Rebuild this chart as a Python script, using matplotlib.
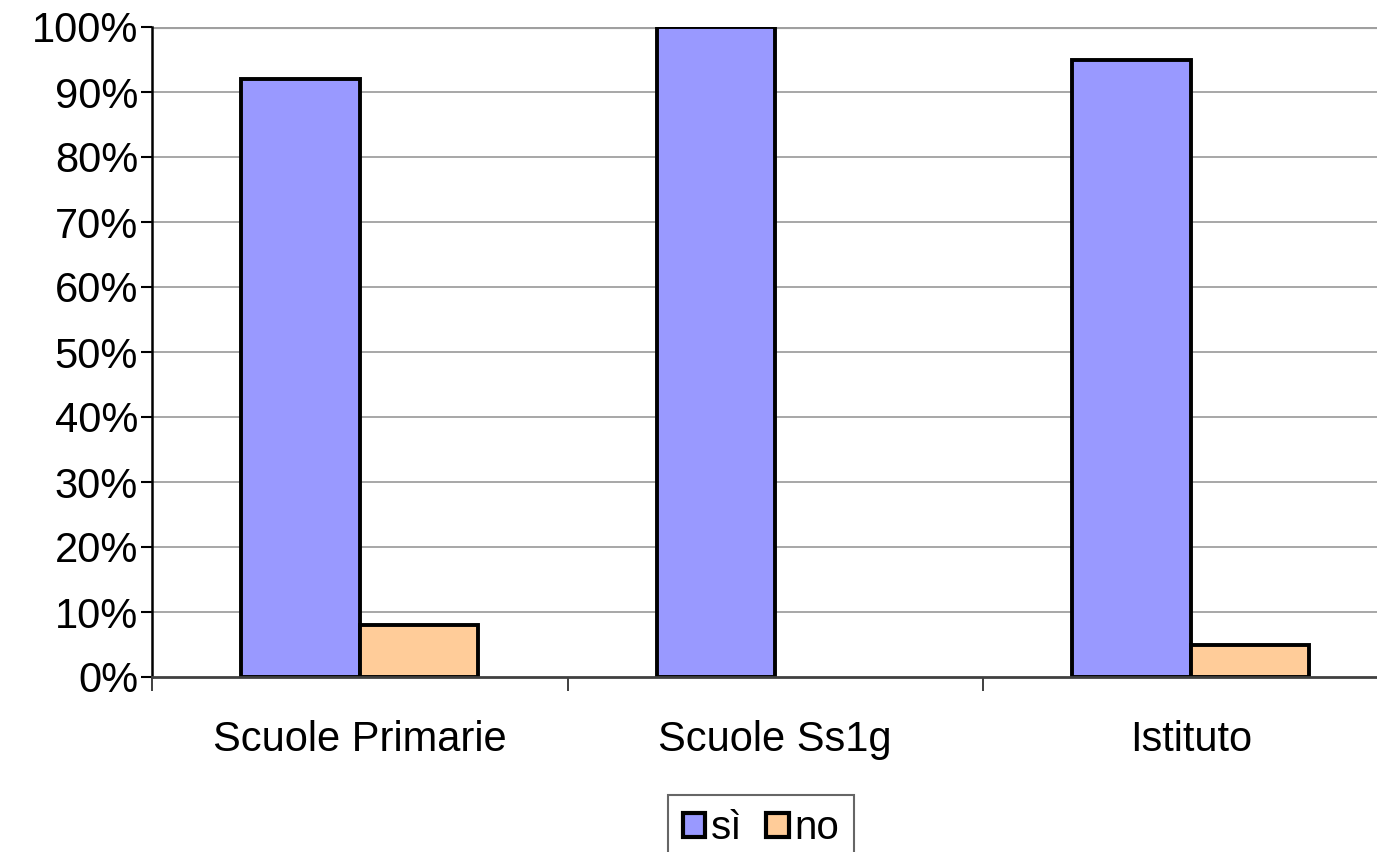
import numpy as np
import matplotlib.pyplot as plt
from matplotlib.ticker import FixedLocator, PercentFormatter

# data
categories = ["Scuole Primarie", "Scuole Ss1g", "Istituto"]
si_values = [92, 100, 95]
no_values = [8, 0, 5]
series_names = ["sì", "no"]

plt.rcParams['font.family'] = ['Liberation Sans', 'DejaVu Sans']

fig = plt.figure(figsize=(13.77, 8.52), dpi=100)
# plot area runs a little past the right edge, like the source image
ax = fig.add_axes([152 / 1377, 175 / 852, 1246.5 / 1377, 650 / 852])

x = np.arange(len(categories))
w = 1 / 3.5  # excel gap width 150%
lw_si = [2.8 if v > 0 else 0 for v in si_values]
lw_no = [2.8 if v > 0 else 0 for v in no_values]
ax.bar(x - w / 2, si_values, w, color="#9999FF", edgecolor="black",
       linewidth=lw_si, label=series_names[0], zorder=3)
ax.bar(x + w / 2, no_values, w, color="#FFCC99", edgecolor="black",
       linewidth=lw_no, label=series_names[1], zorder=3)

ax.set_xlim(-0.5, len(categories) - 0.5)
ax.set_ylim(0, 100)

# y axis
ax.set_yticks(np.arange(0, 101, 10))
ax.yaxis.set_major_formatter(PercentFormatter(decimals=0))
ax.tick_params(axis="y", direction="out", length=8, width=1.5, pad=2,
               labelsize=30, colors="black")
for yv in range(10, 100, 10):
    ax.axhline(yv, color="#a0a0a0", lw=1.3, zorder=1)
ax.axhline(100, color="#a0a0a0", lw=3, zorder=1)

# x axis: labels centred, tick marks between categories
ax.set_xticks(x)
ax.set_xticklabels(categories)
ax.xaxis.set_minor_locator(FixedLocator(np.arange(-0.5, len(categories), 1)))
ax.tick_params(axis="x", which="major", length=0, pad=31, labelsize=30)
ax.tick_params(axis="x", which="minor", direction="out", length=10,
               width=1.3, color="#303030")

for side in ["top", "right"]:
    ax.spines[side].set_visible(False)
ax.spines["left"].set_linewidth(1.8)
ax.spines["left"].set_color("black")
ax.spines["bottom"].set_linewidth(2)
ax.spines["bottom"].set_color("#404040")
ax.spines["bottom"].set_zorder(4)

leg = fig.legend(loc="upper center", bbox_to_anchor=(761 / 1377, 57 / 852),
                 ncol=2, fontsize=29, frameon=True, fancybox=False,
                 edgecolor="#404040", handlelength=0.55, handleheight=0.55,
                 handletextpad=0.15, columnspacing=0.6, borderpad=0.35,
                 borderaxespad=0)
leg.get_frame().set_linewidth(1.5)
for h in leg.legend_handles:
    h.set_linewidth(3)

fig.savefig("out.png", dpi=100)
